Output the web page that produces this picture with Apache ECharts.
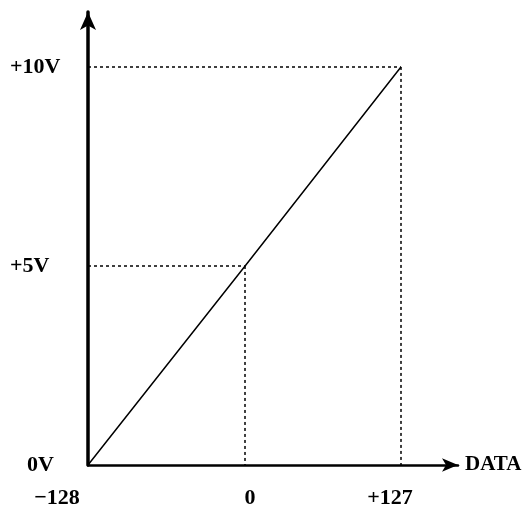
<!DOCTYPE html>
<html>
<head>
<meta charset="utf-8">
<script src="https://cdn.jsdelivr.net/npm/echarts@6/dist/echarts.min.js"></script>
<style>
  html, body { margin: 0; padding: 0; background: #fff; }
  #chart { width: 532px; height: 520px; }
</style>
</head>
<body>
<div id="chart"></div>
<script>
// transfer line: DATA (-128..+127) -> output voltage
let dataCodes = [-128, 0, 127]
let voltages = [0, 5, 10]
let xTicks = [-128, 0, 127]
let yTicks = [0, 5, 10]
let xName = 'DATA'

let myChart = echarts.init(document.getElementById('chart'))

let font = { fontFamily: 'Liberation Serif', fontWeight: 'bold', fontSize: 22, color: '#000' }

let guides = []
for (let i = 1; i < dataCodes.length; i++) {
    guides.push([{ coord: [dataCodes[0], voltages[i]] }, { coord: [dataCodes[i], voltages[i]] }])
    guides.push([{ coord: [dataCodes[i], voltages[i]] }, { coord: [dataCodes[i], 0] }])
}

let option = {
    animation: false,
    grid: { left: 88, right: 74, top: 12, bottom: 55 },
    xAxis: {
        type: 'value',
        min: -128,
        max: 173.5,
        name: xName,
        nameLocation: 'end',
        nameGap: 7,
        nameTextStyle: Object.assign({}, font, { fontSize: 21, verticalAlign: 'middle' }),
        axisLine: { onZero: false, lineStyle: { color: '#000', width: 2.5 }, symbol: ['none', 'arrow'], symbolSize: [10, 16] },
        axisTick: { show: false },
        splitLine: { show: false },
        axisLabel: {
            customValues: xTicks,
            margin: 22,
            fontFamily: font.fontFamily, fontWeight: 'bold', fontSize: 22, color: '#000',
            formatter: v => {
                if (v < 0) return '{l|\u2212' + Math.abs(v) + '}'
                if (v > 0) return '{r|+' + v + '}'
                return '{m|0}'
            },
            rich: {
                l: Object.assign({}, font, { padding: [0, 62, 0, 0] }),
                m: Object.assign({}, font, { padding: [0, 0, 0, 10] }),
                r: Object.assign({}, font, { padding: [0, 22, 0, 0] })
            }
        }
    },
    yAxis: {
        type: 'value',
        min: 0,
        max: 11.38,
        axisLine: { show: true, onZero: false, lineStyle: { color: '#000', width: 3.5 }, symbol: ['none', 'arrow'], symbolSize: [12, 18] },
        axisTick: { show: false },
        splitLine: { show: false },
        axisLabel: {
            customValues: yTicks,
            margin: 78,
            align: 'left',
            formatter: v => v === 0 ? '{z|0V}' : '{p|+' + v + 'V}',
            rich: {
                p: Object.assign({}, font),
                z: Object.assign({}, font, { padding: [0, 0, 0, 17] })
            }
        }
    },
    series: [
        {
            type: 'line',
            data: dataCodes.map((d, i) => [d, voltages[i]]),
            showSymbol: false,
            lineStyle: { color: '#000', width: 1.5 },
            markLine: {
                silent: true,
                symbol: 'none',
                label: { show: false },
                lineStyle: { color: '#000', width: 1.5, type: [3, 3] },
                data: guides
            }
        }
    ]
}
myChart.setOption(option)
</script>
</body>
</html>
